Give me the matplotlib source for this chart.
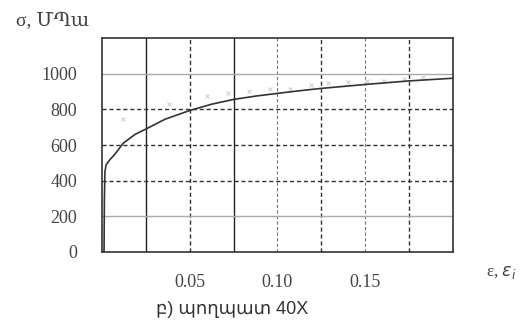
import numpy as np
import matplotlib
matplotlib.use("Agg")
from matplotlib import pyplot as plt

# flow curve of steel 40X
strain = [0.0, 0.0011, 0.0013, 0.0016, 0.0023, 0.0046, 0.0074, 0.012, 0.0188, 0.025,
          0.0359, 0.05, 0.0627, 0.075, 0.0877, 0.1, 0.1128, 0.125, 0.15, 0.175, 0.2]
stress = [0, 0, 300, 450, 490, 520, 550, 610, 660, 690,
          745, 794, 830, 856, 875, 890, 905, 918, 940, 960, 975]

# faint experimental points
exp_strain = [0.012, 0.038, 0.060, 0.072, 0.084, 0.096, 0.107, 0.119, 0.129,
              0.140, 0.151, 0.161, 0.172, 0.183]
exp_stress = [745, 830, 873, 890, 901, 913, 915, 935, 946, 952, 960, 962, 972, 980]

x_ticks = [0.05, 0.10, 0.15]
x_labels = ["0.05", "0.10", "0.15"]
y_ticks = [0, 200, 400, 600, 800, 1000]
x_grid = [0.025, 0.05, 0.075, 0.1, 0.125, 0.15, 0.175]

serif = ["Liberation Serif", "DejaVu Serif"]

fig = plt.figure(figsize=(5.21, 3.26), dpi=100)
ax = fig.add_axes([0.196, 0.227, 0.673, 0.656])
ax.set_xlim(0, 0.2)
ax.set_ylim(0, 1200)

# grid: some lines solid, some dashed, as in the scan
for i, xv in enumerate(x_grid):
    if i in (0, 2):
        ax.axvline(xv, color="#222222", lw=1.0, ls="-", zorder=1)
    elif i in (3, 5):
        ax.axvline(xv, color="#777777", lw=0.8, ls=(0, (3, 2)), zorder=1)
    else:
        ax.axvline(xv, color="#333333", lw=1.0, ls=(0, (3, 2)), zorder=1)
for yv in y_ticks[1:]:
    if yv in (200, 1000):
        ax.axhline(yv, color="#aaaaaa", lw=1.0, ls="-", zorder=1)
    else:
        ax.axhline(yv, color="#333333", lw=1.0, ls=(0, (3, 2)), zorder=1)

ax.plot(exp_strain, exp_stress, ls="none", marker="x", ms=3.5, mew=0.7,
        color="#cccccc", zorder=2)
ax.plot(strain, stress, color="#333333", lw=1.2, zorder=3)

for s in ax.spines.values():
    s.set_color("#333333")
    s.set_linewidth(1.2)

ax.set_xticks(x_ticks)
ax.set_xticklabels(x_labels)
ax.set_yticks(y_ticks)
ax.tick_params(length=0, labelsize=13, colors="#444444")
ax.tick_params(axis="y", pad=18)
ax.tick_params(axis="x", pad=16)
for t in ax.get_xticklabels() + ax.get_yticklabels():
    t.set_family(serif)

fig.text(0.03, 0.935, "σ, ՄՊա", fontsize=14, family=serif, color="#444444",
         va="center", ha="left")
fig.text(0.933, 0.163, r"ε, $\varepsilon_i$", fontsize=12.5, family=serif,
         color="#444444", va="center", ha="left")
fig.text(0.445, 0.05, "բ) պողպատ 40X", fontsize=13,
         family=["Liberation Sans", "DejaVu Sans"], color="#333333",
         va="center", ha="center")

fig.savefig("out.png", dpi=100)
